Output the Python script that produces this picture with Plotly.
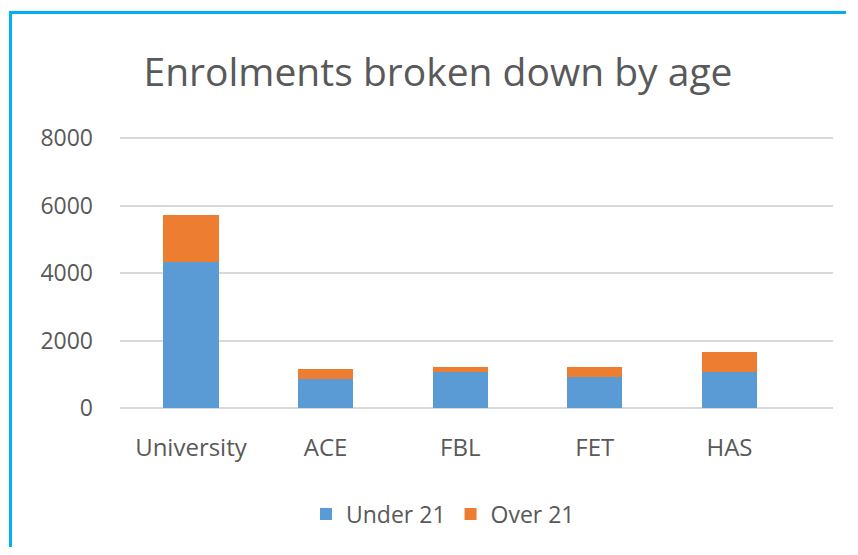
import plotly.graph_objects as go

categories = ["University", "ACE", "FBL", "FET", "HAS"]
under_21 = [4320, 870, 1070, 930, 1070]
over_21 = [1400, 285, 140, 280, 600]
y_ticks = [0, 2000, 4000, 6000, 8000]

OFF = 8  # page body margin in the browser
W, H = 858 - 2 * OFF, 555 - 2 * OFF
Y_TOP = 8040
# page-pixel geometry of the reference
PL, PR, P0, P8000 = 120, 833, 408, 138
PTOP = P0 - (P0 - P8000) * Y_TOP / 8000
# outer frame (blue border) in figure pixels
ML, MT = 4, 6
AW, AH = W - ML, H - MT
FONT = "Open Sans"
TXT = "#595959"
BLUE_BORDER = "#00B0F0"


def fx(page_px):
    return (page_px - OFF - ML) / AW


def fy(page_px):
    return (H - (page_px - OFF)) / AH


fig = go.Figure()
fig.add_trace(go.Bar(name="Under 21", x=categories, y=under_21,
                     marker=dict(color="#5B9BD5", line=dict(width=0))))
fig.add_trace(go.Bar(name="Over 21", x=categories, y=over_21,
                     marker=dict(color="#ED7D31", line=dict(width=0))))
# empty trace that carries the frame axes
fig.add_trace(go.Scatter(x=[None], y=[None], xaxis="x2", yaxis="y2",
                         showlegend=False, hoverinfo="skip", mode="lines"))

fig.update_layout(
    width=W, height=H,
    margin=dict(l=ML, r=0, t=MT, b=0, autoexpand=False),
    barmode="stack", bargap=0.59,
    paper_bgcolor="white", plot_bgcolor="rgba(0,0,0,0)",
    font=dict(family=FONT, color=TXT, size=23),
    title=dict(text="Enrolments broken down by age", x=(438 - OFF) / W, xanchor="center",
               y=1 - (72 - OFF) / H, yanchor="middle",
               font=dict(family=FONT, size=39, color=TXT)),
    xaxis=dict(type="category", range=[-0.527, 4.769], domain=[fx(PL), fx(PR)],
               anchor="y", showgrid=False, showline=False, zeroline=False, ticks="",
               tickfont=dict(size=24, color=TXT), ticklabelstandoff=23),
    yaxis=dict(range=[0, Y_TOP], tickvals=y_ticks, domain=[fy(P0), fy(PTOP)],
               anchor="x", showgrid=True,
               gridcolor="#D9D9D9", gridwidth=1.5, zeroline=True,
               zerolinecolor="#D9D9D9", zerolinewidth=1.5, showline=False,
               ticks="", tickfont=dict(size=23, color=TXT), ticklabelstandoff=26),
    xaxis2=dict(domain=[0, 0.995], anchor="y2", side="top", range=[0, 1],
                showline=True, linecolor=BLUE_BORDER, linewidth=2.5,
                showgrid=False, zeroline=False, showticklabels=False, ticks=""),
    yaxis2=dict(domain=[0, 1], anchor="x2", side="left", range=[0, 1],
                showline=True, linecolor=BLUE_BORDER, linewidth=2.5,
                showgrid=False, zeroline=False, showticklabels=False, ticks=""),
    legend=dict(orientation="h", x=fx(443), xanchor="center",
                y=fy(514), yanchor="middle", font=dict(size=23, color=TXT),
                itemwidth=30, traceorder="normal"),
    showlegend=True,
)

fig.write_html("out.html")
